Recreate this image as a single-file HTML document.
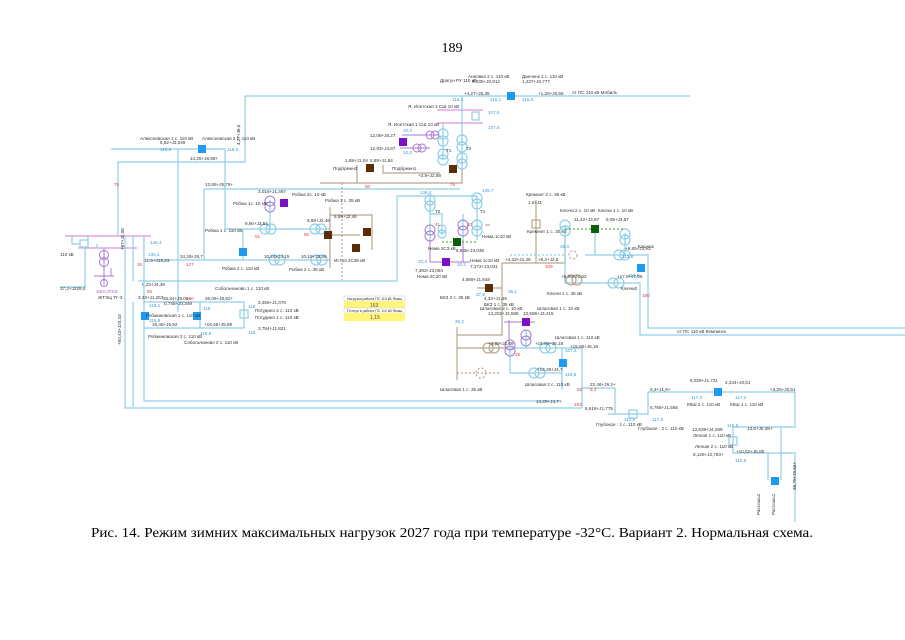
<!DOCTYPE html>
<html><head><meta charset="utf-8">
<style>
html,body{margin:0;padding:0;background:#fff;}
svg{display:block;}
text{font-family:"Liberation Sans",sans-serif;}
.b{stroke:#8fcfe8;stroke-width:1.2;fill:none}
.t{stroke:#b8a690;stroke-width:1.2;fill:none}
.m{stroke:#e3a6e3;stroke-width:1.6;fill:none}
.p{stroke:#a77ad6;stroke-width:1;fill:none}
.d{stroke-dasharray:2 2}
.s{font-size:4.6px;fill:#333}
.r{font-size:4.6px;fill:#e03a3a}
.c{font-size:4.6px;fill:#3a9ad6}
.v{font-size:4.6px;fill:#a050d0}
</style></head><body>
<svg width="905" height="640" viewBox="0 0 905 640" xmlns="http://www.w3.org/2000/svg">
<rect width="905" height="640" fill="#fff"/>
<text x="452" y="52" font-family="Liberation Serif" font-size="14" text-anchor="middle" fill="#000" style="font-family:'Liberation Serif',serif">189</text>

<!-- top line -->
<path class="b" d="M245 96 H690 M245 96 V162 H118 V236"/>
<rect x="507" y="92" width="8" height="8" fill="#1e9bf0"/>
<text class="s" x="572" y="94">от ПС 110 кВ Мобиль</text>
<text class="s" x="440" y="82">Драгун РУ 110 кВ</text>
<text class="s" x="468" y="78">Анновка 2 с. 110 кВ</text>
<text class="s" x="472" y="83">4,035+J0,912</text>
<text class="s" x="522" y="78">Данченк 1 с. 110 кВ</text>
<text class="s" x="522" y="83">1,237+J0,777</text>
<text class="s" x="464" y="95">+4,27+J6,35</text>
<text class="s" x="538" y="95">+1,28+J0,65</text>
<text class="c" x="452" y="101">116,3</text><text class="c" x="490" y="101">116,1</text><text class="c" x="522" y="101">115,0</text>

<!-- Ястребовка / transformers top -->
<path class="m" d="M437 110 H483 M437 123 H483"/>
<path class="b" d="M443 123 V160 M462 110 V170 M462 110 V96"/>
<circle class="b" cx="443" cy="134" r="5"/><circle class="b" cx="443" cy="141" r="5"/>
<circle class="b" cx="443" cy="154" r="5"/><circle class="b" cx="443" cy="160" r="5"/>
<circle class="b" cx="462" cy="140" r="5"/><circle class="b" cx="462" cy="147" r="5"/>
<circle class="b" cx="462" cy="158" r="5"/><circle class="b" cx="462" cy="164" r="5"/>
<rect class="b" x="472" y="112" width="7" height="8"/>
<text class="s" x="408" y="108">Я. Ионтская 2 СШ 10 кВ</text>
<text class="s" x="388" y="126">Я. Ионтская 1 СШ 10 кВ</text>
<text class="c" x="488" y="114">107,5</text><text class="c" x="488" y="129">107,5</text>
<text class="s" x="466" y="150">T2</text><text class="s" x="446" y="152">T1</text>
<path class="p" d="M402 135 H438 M400 148 H430"/>
<circle class="p" cx="430" cy="135" r="4"/><circle class="p" cx="435" cy="135" r="4"/>
<circle class="p" cx="417" cy="148" r="4"/><circle class="p" cx="422" cy="148" r="4"/>
<rect x="399" y="138" width="8" height="8" fill="#7a10c8"/>
<text class="s" x="370" y="137">12,08+J5,27</text><text class="s" x="370" y="150">12,93+J3,87</text>
<text class="c" x="403" y="132">10,3</text><text class="c" x="403" y="154">10,3</text>
<!-- tan bus -->
<path class="t" d="M357 165 V183 H462 V170 M383 165 V173 H440 M320 183 H357"/>
<path class="t d" d="M342 183 V280"/>
<rect x="366" y="164" width="8" height="8" fill="#5a2e0a"/>
<rect x="449" y="165" width="8" height="8" fill="#5a2e0a"/>
<text class="s" x="345" y="162">1,69+J1,04</text><text class="s" x="370" y="162">2,89+J1,84</text>
<text class="s" x="333" y="170">Подбрежн2</text><text class="s" x="392" y="170">Подбрежн1</text>
<text class="r" x="365" y="188">50</text><text class="r" x="450" y="186">75</text>
<text class="s" x="418" y="177">+3,9+J2,88</text>

<!-- Алексеевская -->
<path class="b" d="M111 149 H225 V229 M178 149 V312"/>
<rect x="198" y="145" width="8" height="8" fill="#1e9bf0"/>
<text class="s" x="140" y="140">Алексеевская 1 с. 110 кВ</text>
<text class="s" x="202" y="140">Алексеевская 2 с. 110 кВ</text>
<text class="s" x="160" y="144">6,62+J3,046</text>
<text class="c" x="160" y="151">119,5</text><text class="c" x="227" y="151">119,3</text>
<text class="s" x="190" y="160">14,25+J8,98+</text>
<text class="s" x="240" y="145" transform="rotate(-90 240 145)">4,27+J6,0</text>
<text class="r" x="114" y="186">75</text>

<!-- Робжа -->
<path class="b" d="M204 189 H460 M204 189 V260 M225 229 H330 M148 260 H330 M397 196 V281 H138 M397 196 H477"/>
<path class="t" d="M330 207 V268 M330 215 H372 V250 M330 235 H360"/>
<path class="b" d="M270 229 V200 M243 229 V260"/>
<circle class="b" cx="265" cy="229" r="5"/><circle class="b" cx="271" cy="229" r="5"/>
<circle class="b" cx="315" cy="229" r="5"/><circle class="b" cx="321" cy="229" r="5"/>
<circle class="b" cx="274" cy="260" r="5"/><circle class="b" cx="280" cy="260" r="5"/>
<circle class="b" cx="316" cy="260" r="5"/><circle class="b" cx="322" cy="260" r="5"/>
<circle class="p" cx="270" cy="201" r="5"/><circle class="p" cx="270" cy="207" r="5"/>
<rect x="280" y="199" width="8" height="8" fill="#7a10c8"/>
<rect x="239" y="248" width="8" height="8" fill="#1e9bf0"/>
<rect x="324" y="231" width="8" height="8" fill="#5a2e0a"/>
<rect x="363" y="228" width="8" height="8" fill="#5a2e0a"/>
<rect x="352" y="244" width="8" height="8" fill="#5a2e0a"/>
<text class="s" x="205" y="186">13,66+J5,79+</text>
<text class="s" x="258" y="193">3,016+J1,467</text><text class="s" x="292" y="196">Робжа 2с. 10 кВ</text>
<text class="s" x="233" y="205">Робжа 1с. 10 кВ</text><text class="s" x="325" y="202">Робжа 1 с. 35 кВ</text>
<text class="s" x="245" y="225">9,90+J3,54</text><text class="s" x="307" y="222">6,89+J2,46</text>
<text class="s" x="205" y="232">Робжа 1 с. 110 кВ</text><text class="s" x="334" y="218">6,89+J2,46</text>
<text class="r" x="255" y="238">51</text><text class="r" x="304" y="236">50</text>
<text class="s" x="264" y="258">10,24+J4,15</text><text class="s" x="301" y="258">10,19+J3,59</text>
<text class="s" x="222" y="270">Робжа 2 с. 110 кВ</text><text class="s" x="289" y="271">Робжа 2 с. 35 кВ</text>
<text class="s" x="334" y="262">Истоя 2С35 кВ</text>
<text class="s" x="180" y="258">24,29+J8,7</text><text class="r" x="186" y="266">127</text>
<text class="s" x="144" y="262">31,5+J15,23</text>
<text class="c" x="150" y="244">136,4</text><text class="c" x="148" y="256">135,4</text>
<text class="s" x="142" y="286">0,23+J4,49</text><text class="r" x="147" y="293">60</text>
<text class="s" x="215" y="290">Собольчаново 1 с. 110 кВ</text>

<!-- left generator -->
<path class="m" d="M65 236 H151 M78 248 H137"/>
<path class="b" d="M85 248 V287 H60 M88 240 V236 M72 236 V244 H80 M97 244 V248"/>
<rect class="b" x="80" y="240" width="8" height="7" fill="#fff"/>
<path class="p" d="M104 248 V285 M94 276 H114 M111 276 V268"/>
<circle class="p" cx="104" cy="255" r="4.5"/><circle class="p" cx="104" cy="262" r="4.5"/>
<circle class="p" cx="104" cy="283" r="3.5"/>
<text class="s" x="60" y="256">110 кВ</text><text class="s" x="60" y="290">37,2+J229,4</text>
<text class="v" x="96" y="293">100+J73,8</text><text class="s" x="98" y="299">ЖТЭЦ ТГ-3</text>
<path class="b" d="M125 236 V408 H582 M133 236 V281 M144 236 V401 H560 M133 302 V407"/>
<text class="s" x="124" y="250" transform="rotate(-90 124 250)">+67+J2,08</text>
<text class="s" x="121" y="345" transform="rotate(-90 121 345)">+50,43+J20,33</text>
<text class="r" x="137" y="266">26</text>

<!-- Собольчаново -->
<path class="b" d="M143 302 H244 V328 H143 M200 302 V328"/>
<rect class="b" x="240" y="310" width="8" height="8" fill="#fff"/>
<rect x="141" y="312" width="8" height="8" fill="#1e9bf0"/>
<rect x="193" y="312" width="8" height="8" fill="#1e9bf0"/>
<text class="s" x="138" y="299">3,33+J1,253</text><text class="s" x="163" y="300">26,84+J9,06+</text>
<text class="s" x="205" y="300">26,06+J8,82+</text><text class="r" x="186" y="300">140</text>
<text class="s" x="164" y="305">0,745+J0,349</text>
<text class="s" x="258" y="304">3,456+J1,076</text>
<text class="s" x="255" y="312">Погудино 2 с. 110 кВ</text><text class="s" x="255" y="319">Погудино 1 с. 110 кВ</text>
<text class="s" x="146" y="317">Робжиновская 1 с. 110 кВ</text>
<text class="s" x="152" y="326">16,45+J5,92</text><text class="s" x="204" y="326">+16,46+J5,89</text>
<text class="s" x="258" y="330">3,754+J1,821</text>
<text class="s" x="148" y="338">Робжиновская 2 с. 110 кВ</text>
<text class="s" x="184" y="344">Собольчаново 2 с. 110 кВ</text>
<text class="c" x="149" y="307">116,1</text><text class="c" x="203" y="310">116</text><text class="c" x="248" y="308">116</text>
<text class="c" x="149" y="322">115,9</text><text class="c" x="200" y="335">115,9</text><text class="c" x="248" y="334">116</text>

<!-- table -->
<rect x="344" y="296" width="61" height="5" fill="#fff" stroke="#ccc" stroke-width="0.5"/>
<rect x="344" y="301" width="61" height="7" fill="#fff57a"/>
<rect x="344" y="308" width="61" height="5" fill="#fff" stroke="#ccc" stroke-width="0.5"/>
<rect x="344" y="313" width="61" height="8" fill="#fff57a"/>
<text x="347" y="300" font-size="3.5" fill="#333">Нагрузка района ПС 110 кВ Ямаш</text>
<text x="370" y="307" font-size="5" fill="#555">163</text>
<text x="347" y="312" font-size="3.5" fill="#333">Потери в районе ПС 110 кВ Ямаш</text>
<text x="370" y="319" font-size="5" fill="#555">1,15</text>

<!-- Нема -->
<path class="b" d="M430 196 V240 M477 196 V240 M430 214 H442 V235 M463 214 V240"/>
<circle class="b" cx="430" cy="200" r="5"/><circle class="b" cx="430" cy="206" r="5"/>
<circle class="p" cx="430" cy="230" r="5"/><circle class="p" cx="430" cy="236" r="5"/>
<circle class="b" cx="442" cy="229" r="4"/><circle class="b" cx="442" cy="234" r="4"/>
<circle class="b" cx="477" cy="198" r="5"/><circle class="b" cx="477" cy="204" r="5"/>
<circle class="p" cx="463" cy="225" r="5"/><circle class="p" cx="463" cy="231" r="5"/>
<circle class="b" cx="477" cy="225" r="5"/><circle class="b" cx="477" cy="231" r="5"/>
<path class="p" d="M430 240 V262 H470 M463 240 V262"/>
<path class="b d" d="M442 242 H477" style="stroke:#6ab04c"/>
<rect x="453" y="238" width="8" height="8" fill="#0b5e0b"/>
<rect x="442" y="258" width="8" height="8" fill="#7a10c8"/>
<text class="c" x="420" y="194">136,4</text><text class="c" x="482" y="192">135,7</text>
<text class="s" x="435" y="213">T2</text><text class="s" x="480" y="213">T1</text>
<text class="s" x="482" y="238">Нема 1с10 кВ</text><text class="s" x="428" y="250">Нема 2С3 кВ</text>
<text class="s" x="456" y="252">8,645+J3,038</text>
<text class="s" x="470" y="262">Нема 1с10 кВ</text><text class="s" x="470" y="268">7,272+J3,031</text>
<text class="s" x="415" y="272">7,393+J3,064</text><text class="s" x="417" y="278">Нема 2С20 кВ</text>
<text class="c" x="418" y="263">10,3</text><text class="c" x="457" y="266">10,3</text>
<text class="r" x="435" y="226">41</text><text class="r" x="467" y="226">40</text>

<!-- tan 35 network -->
<path class="t" d="M502 263 H565 M502 263 V335 H457 M477 288 H502 M457 327 V380 M536 200 V263 M565 228 V263"/>
<path class="t" d="M485 225 H490"/>
<rect class="t" x="532" y="220" width="8" height="8" fill="#fff"/>
<rect x="485" y="284" width="8" height="8" fill="#5a2e0a"/>
<text class="s" x="526" y="196">Кремнит 2 с. 35 кВ</text><text class="s" x="528" y="204">1,6+J1</text>
<text class="s" x="527" y="233">Кремнит 1 с. 35 кВ</text><text class="s" x="505" y="261">+4,33+J1,49</text>
<text class="s" x="538" y="261">+6,2+J2,5</text><text class="r" x="545" y="268">109</text>
<text class="s" x="462" y="281">4,889+J1,848</text><text class="s" x="440" y="299">БКЗ 2 с. 35 кВ</text>
<text class="s" x="484" y="300">4,33+J1,49</text><text class="s" x="484" y="306">БКЗ 1 с. 35 кВ</text>
<text class="c" x="476" y="296">37,8</text><text class="c" x="508" y="293">35,1</text><text class="c" x="455" y="323">36,2</text>

<!-- Шлаговая -->
<path class="t" d="M457 348 H505"/>
<path class="b" d="M505 348 H582 V408 M510 348 V373 H562 M562 348 V390 M526 330 V348"/>
<circle class="t" cx="488" cy="348" r="5"/><circle class="t" cx="494" cy="348" r="5"/>
<circle class="p" cx="510" cy="345" r="5"/><circle class="p" cx="510" cy="351" r="5"/>
<circle class="b" cx="545" cy="348" r="5"/><circle class="b" cx="551" cy="348" r="5"/>
<circle class="b" cx="534" cy="373" r="5"/><circle class="b" cx="540" cy="373" r="5"/>
<circle class="p" cx="526" cy="335" r="5"/><circle class="p" cx="526" cy="341" r="5"/>
<path class="t d" d="M457 373 H500"/><circle class="t d" cx="481" cy="373" r="5"/>
<path class="p" d="M509 345 V320 M504 322 H535"/>
<rect x="522" y="318" width="8" height="8" fill="#7a10c8"/>
<rect x="559" y="359" width="8" height="8" fill="#1e9bf0"/>
<text class="s" x="480" y="310">Шлаговая 2 с. 10 кВ</text><text class="s" x="537" y="310">Шлаговая 1 с. 10 кВ</text>
<text class="s" x="488" y="315">14,202+J3,598</text><text class="s" x="523" y="315">10,596+J3,415</text>
<text class="s" x="555" y="339">Шлаговая 1 с. 110 кВ</text>
<text class="s" x="535" y="345">+15,90+J6,18</text><text class="s" x="570" y="348">+15,90+J6,18</text>
<text class="s" x="525" y="386">Шлаговая 2 с. 110 кВ</text><text class="s" x="440" y="391">Шлаговая 1 с. 35 кВ</text>
<text class="s" x="537" y="371">+14,29+J4,7</text><text class="s" x="536" y="403">14,29+J4,7+</text>
<text class="c" x="565" y="352">107,2</text><text class="c" x="565" y="376">116,8</text>
<text class="r" x="577" y="391">92</text><text class="r" x="574" y="406">193</text>
<text class="s" x="488" y="345">+4,29+J1,69</text><text class="r" x="515" y="356">25</text>

<!-- Ключи -->
<path class="b" d="M470 196 H477 M565 225 V283 H640 V335 H905 M585 255 H648 V328 H905 M595 233 V255 M625 233 V255"/>
<circle class="b" cx="565" cy="225" r="5"/><circle class="b" cx="565" cy="231" r="5"/>
<circle class="b" cx="625" cy="234" r="5"/><circle class="b" cx="625" cy="240" r="5"/>
<circle class="b" cx="619" cy="255" r="5"/><circle class="b" cx="625" cy="255" r="5"/>
<circle class="t" cx="571" cy="280" r="5"/><circle class="t" cx="577" cy="280" r="5"/>
<circle class="b" cx="613" cy="283" r="5"/><circle class="b" cx="619" cy="283" r="5"/>
<path class="b d" d="M510 255 H565" /><circle class="t d" cx="573" cy="255" r="4"/>
<path class="b d" d="M565 229 H625" style="stroke:#6ab04c"/>
<rect x="591" y="225" width="8" height="8" fill="#0b5e0b"/>
<rect x="637" y="264" width="8" height="8" fill="#1e9bf0"/>
<text class="s" x="560" y="212">Ключи 2 с. 10 кВ</text><text class="s" x="598" y="212">Ключи 1 с. 10 кВ</text>
<text class="s" x="574" y="221">11,42+J3,97</text><text class="s" x="606" y="221">9,05+J3,57</text>
<text class="s" x="625" y="250">+9,85+J3,93</text><text class="s" x="638" y="248">Ключи1</text>
<text class="s" x="617" y="278">+17,8+J7,05</text><text class="s" x="621" y="290">Ключи2</text>
<text class="s" x="547" y="295">Ключи 1 с. 35 кВ</text><text class="s" x="561" y="278">+6,56+J2,62</text>
<text class="c" x="560" y="248">36,3</text><text class="c" x="622" y="258">112,8</text><text class="c" x="628" y="277">113,6</text>
<text class="s" x="677" y="333">от ПС 110 кВ Кемпинги</text>
<text class="r" x="642" y="297">180</text>

<!-- Глубокое & lower right -->
<path class="b" d="M582 388 H615 V414 H648 V392 H795 V427 H733 V453 H795 V522 M608 414 H615 M781 427 V480 M768 453 V480"/>
<rect class="b" x="629" y="410" width="8" height="8" fill="#fff"/>
<rect class="b" x="729" y="437" width="8" height="8" fill="#fff"/>
<rect x="714" y="388" width="8" height="8" fill="#1e9bf0"/>
<rect x="771" y="477" width="8" height="8" fill="#1e9bf0"/>
<text class="s" x="590" y="386">22,46+J9,3+</text><text class="r" x="590" y="391">9,3</text>
<text class="s" x="585" y="410">8,618+J1,775</text><text class="s" x="596" y="426">Глубокое : 1 с. 110 кВ</text>
<text class="s" x="638" y="430">Глубокое : 2 с. 110 кВ</text><text class="s" x="650" y="409">6,765+J1,565</text>
<text class="s" x="650" y="391">6,3+J1,9+</text><text class="s" x="690" y="382">6,029+J1,731</text>
<text class="s" x="725" y="384">2,244+J0,51</text><text class="s" x="770" y="391">+3,25+J0,51</text>
<text class="s" x="687" y="406">ККШ 2 с. 110 кВ</text><text class="s" x="730" y="406">ККШ 1 с. 110 кВ</text>
<text class="s" x="692" y="431">13,639+J4,289</text><text class="s" x="747" y="430">13,6+J5,28+</text>
<text class="s" x="693" y="437">Легкая 1 с. 110 кВ</text><text class="s" x="695" y="448">Легкая 2 с. 110 кВ</text>
<text class="s" x="693" y="456">8,125+J2,764+</text><text class="s" x="736" y="453">+10,52+J5,08</text>
<text class="c" x="624" y="421">117,6</text><text class="c" x="652" y="421">117,6</text>
<text class="c" x="691" y="399">117,3</text><text class="c" x="735" y="399">117,2</text>
<text class="c" x="727" y="427">110,5</text><text class="c" x="735" y="462">110,5</text>
<text class="s" x="760" y="515" transform="rotate(-90 760 515)">Рассошь2</text>
<text class="s" x="775" y="515" transform="rotate(-90 775 515)">Рассошь1</text>
<text class="s" x="796" y="490" transform="rotate(-90 796 490)">38,75+J9,66+</text>

<!-- caption -->
<text x="452" y="537" text-anchor="middle" font-size="14" textLength="722" lengthAdjust="spacingAndGlyphs" fill="#000" style="font-family:'Liberation Serif',serif">Рис. 14. Режим зимних максимальных нагрузок 2027 года при температуре -32°С. Вариант 2. Нормальная схема.</text>
</svg>
</body></html>
